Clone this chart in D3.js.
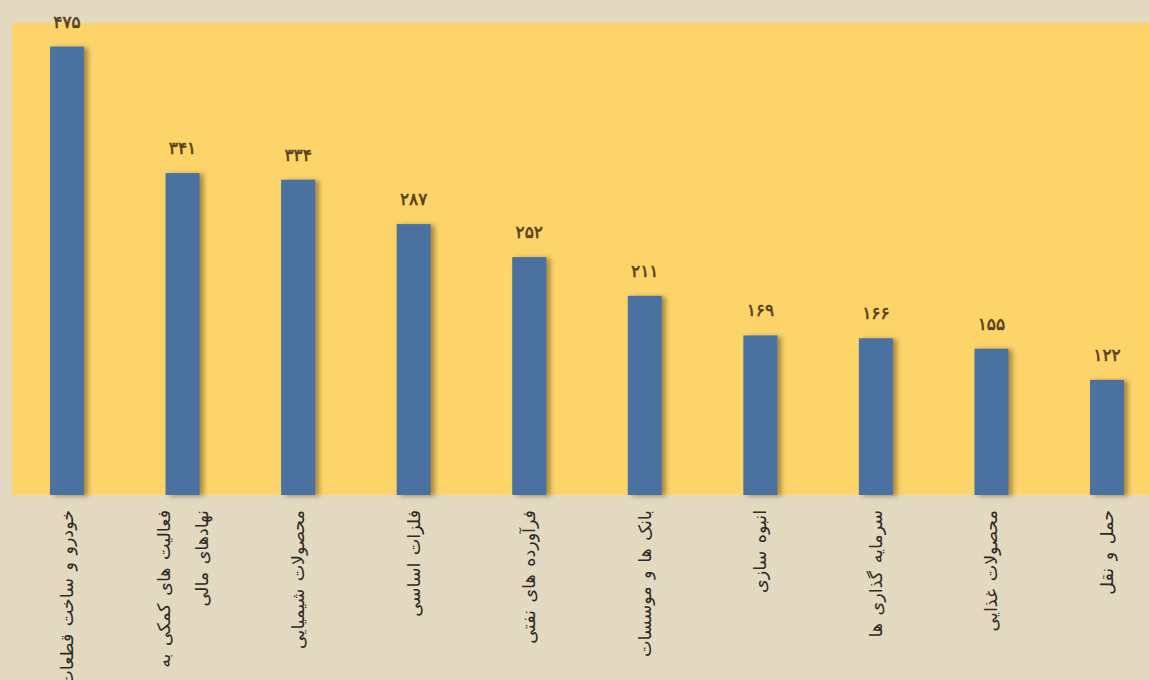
<!DOCTYPE html>
<html>
<head>
<meta charset="utf-8">
<script src="https://cdn.jsdelivr.net/npm/d3@7"></script>
<style>
  html, body { margin: 0; padding: 0; background: #e2d9c0; }
  svg { display: block; }
</style>
</head>
<body>
<svg id="chart" width="1150" height="680"></svg>
<script>
const categories = [
    "خودرو و ساخت قطعات",
    "فعالیت های کمکی به\nنهادهای مالی",
    "محصولات شیمیایی",
    "فلزات اساسی",
    "فرآورده های نفتی",
    "بانک ها و موسسات",
    "انبوه سازی",
    "سرمایه گذاری ها",
    "محصولات غذایی",
    "حمل و نقل"
];
const values = [475, 341, 334, 287, 252, 211, 169, 166, 155, 122];
const yDomain = [0, 500];

const faDigits = "۰۱۲۳۴۵۶۷۸۹";
const toFa = n => String(n).replace(/\d/g, d => faDigits[+d]);

const svg = d3.select("#chart");
const width = 1150, height = 680;
const plot = { left: 12, right: 1150, top: 23, bottom: 495 };

const x = d3.scalePoint().domain(categories).range([67, 1107]);
const y = d3.scaleLinear().domain(yDomain).range([plot.bottom, plot.top]);
const barW = 34;

// soft shadow on the right side of bars
const defs = svg.append("defs");
const f = defs.append("filter").attr("id", "shadow").attr("x", "-30%").attr("y", "-10%").attr("width", "180%").attr("height", "130%");
f.append("feDropShadow").attr("dx", 4).attr("dy", 1).attr("stdDeviation", 2.5)
    .attr("flood-color", "#5a4a20").attr("flood-opacity", 0.55);

svg.append("rect").attr("width", width).attr("height", height).attr("fill", "#e2d9c0");

svg.append("rect")
    .attr("x", plot.left).attr("y", plot.top)
    .attr("width", plot.right - plot.left).attr("height", plot.bottom - plot.top)
    .attr("fill", "#fdd46a");

// bars
svg.append("g").selectAll("rect").data(categories).enter().append("rect")
    .attr("x", d => x(d) - barW / 2)
    .attr("y", (d, i) => y(values[i]))
    .attr("width", barW)
    .attr("height", (d, i) => y(0) - y(values[i]))
    .attr("fill", "#4b71a0")
    .attr("filter", "url(#shadow)");

// value labels
svg.append("g").selectAll("text").data(categories).enter().append("text")
    .attr("x", d => x(d))
    .attr("y", (d, i) => y(values[i]) - 19)
    .attr("text-anchor", "middle")
    .attr("font-family", "DejaVu Sans, sans-serif")
    .attr("font-size", "17px")
    .attr("letter-spacing", "1.5px")
    .attr("fill", "#55401e")
    .attr("stroke", "#55401e")
    .attr("stroke-width", 0.6)
    .text((d, i) => toFa(values[i]));

// category labels, rotated
const lineGap = 38;
const catG = svg.append("g").selectAll("g").data(categories).enter().append("g")
    .attr("transform", d => `translate(${x(d)},${plot.bottom + 15}) rotate(-90)`);

catG.each(function(d) {
    const lines = d.split("\n");
    const n = lines.length;
    const t = d3.select(this).append("text")
        .attr("text-anchor", "end")
        .attr("font-family", "DejaVu Sans, sans-serif")
        .attr("font-size", "17.5px")
        .attr("word-spacing", "2px")
        .attr("fill", "#2e2a25");
    lines.forEach((ln, k) => {
        t.append("tspan")
            .attr("x", 0)
            .attr("y", (k - (n - 1) / 2) * lineGap + 6)
            .text(ln);
    });
});
</script>
</body>
</html>
